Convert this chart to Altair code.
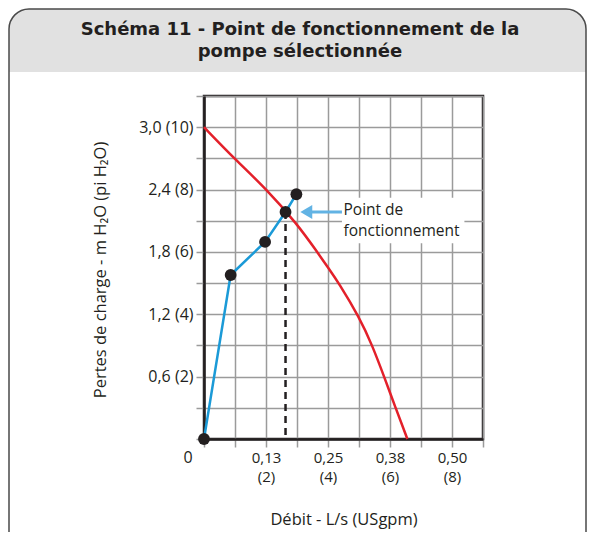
import altair as alt
import pandas as pd

# ---------------- data (flow in USgpm, head in ft H2O) ----------------
sys_flow = [0, 0.86, 1.97, 2.63, 2.98]
sys_head = [0, 5.26, 6.32, 7.28, 7.85]

pump_flow = [0, 1, 2, 3, 3.65, 4, 4.35, 5, 5.43, 5.81, 6.18, 6.56]
pump_head = [10, 8.97, 8.03, 6.9, 6.0, 5.5, 5.0, 3.92, 3.0, 2.0, 1.0, 0]

op_flow = [2.63]
op_head = [7.28]

x_tick_pos = [2, 4, 6, 8]
x_tick_ls = ["0,13", "0,25", "0,38", "0,50"]
y_tick_pos = [2, 4, 6, 8, 10]
y_tick_m = ["0,6", "1,2", "1,8", "2,4", "3,0"]

title_lines = ["Schéma 11 - Point de fonctionnement de la", "pompe sélectionnée"]
annot_lines = ["Point de", "fonctionnement"]
x_title = "Débit - L/s (USgpm)"
y_title = "Pertes de charge - m H\u2082O (pi H\u2082O)"

# ---------------- styling ----------------
FONT = "Open Sans"
TFONT = "DejaVu Sans"
TXT = "#231f20"
GRID = "#9b9b9b"
BLUE = "#1b9ad7"
RED = "#e3202a"
ARROW = "#62b3e4"
W, H = 279, 343
FS = 16

x_expr = " : ".join(
    f"datum.value == {p} ? ['{l}', '({p})']" for p, l in zip(x_tick_pos, x_tick_ls)
) + " : ''"
y_expr = " : ".join(
    f"datum.value == {p} ? '{m} ({p})'" for p, m in zip(y_tick_pos, y_tick_m)
) + " : ''"

x_enc = alt.X(
    "flow:Q",
    scale=alt.Scale(domain=[0, 9], nice=False, zero=False),
    axis=alt.Axis(
        values=list(range(10)), grid=True, gridColor=GRID, gridWidth=1.5,
        domainColor=TXT, domainWidth=2.5, tickColor=GRID, tickWidth=1.5, tickSize=8,
        labelExpr=x_expr, labelFont=FONT, labelFontSize=15, labelColor=TXT,
        labelPadding=3, labelLineHeight=19, labelOverlap=False, labelFlush=False,
        title=x_title, titleFont=FONT, titleFontSize=16.5, titleFontWeight="normal",
        titleColor=TXT, titleX=W / 2, titleY=80, titleBaseline="middle", titleAlign="center",
    ),
)
y_enc = alt.Y(
    "head:Q",
    scale=alt.Scale(domain=[0, 11], nice=False, zero=False),
    axis=alt.Axis(
        values=list(range(12)), grid=True, gridColor=GRID, gridWidth=1.5,
        domainColor=TXT, domainWidth=2.5, tickColor=GRID, tickWidth=1.5, tickSize=8,
        labelExpr=y_expr, labelFont=FONT, labelFontSize=FS, labelColor=TXT,
        labelPadding=3, labelOverlap=False, labelFlush=False,
        title=y_title, titleFont=FONT, titleFontSize=16.5, titleFontWeight="normal",
        titleColor=TXT, titleX=-104, titleY=H / 2 + 2, titleAngle=-90,
        titleBaseline="middle", titleAlign="center",
    ),
)

one = pd.DataFrame({"k": [0]})
sys_df = pd.DataFrame({"flow": sys_flow, "head": sys_head})
pump_df = pd.DataFrame({"flow": pump_flow, "head": pump_head})
op_df = pd.DataFrame({"flow": op_flow, "head": op_head, "head0": [0]})

# annotation geometry (data units)
ann_df = pd.DataFrame({"flow": [4.45], "flow2": [8.4], "head": [6.28], "head2": [7.74]})
arrow_df = pd.DataFrame({"flow": [3.4], "flow2": [4.45], "head": op_head})
arrow_head_df = pd.DataFrame({"flow": [3.3], "head": op_head})
ann_txt_df = pd.DataFrame({"flow": [4.5, 4.5], "head": [7.34, 6.67], "t": annot_lines})
zero_df = pd.DataFrame({"flow": [0], "head": [0], "t": ["0"]})

header = alt.Chart(one).mark_rect(
    fill="#e1e1e1", cornerRadiusTopLeft=20, cornerRadiusTopRight=20
).encode(x=alt.value(-195), x2=alt.value(382), y=alt.value(-87), y2=alt.value(-24))

frame = alt.Chart(one).mark_rect(
    fillOpacity=0, stroke="#4a4a4a", strokeWidth=1.5, cornerRadius=20
).encode(x=alt.value(-195), x2=alt.value(382), y=alt.value(-87), y2=alt.value(520))

t1 = alt.Chart(one).mark_text(
    font=TFONT, fontSize=18, fontWeight="bold", color=TXT, align="center", baseline="alphabetic"
).encode(x=alt.value(96), y=alt.value(-61.5), text=alt.value(title_lines[0]))
t2 = alt.Chart(one).mark_text(
    font=TFONT, fontSize=18, fontWeight="bold", color=TXT, align="center", baseline="alphabetic"
).encode(x=alt.value(96), y=alt.value(-39), text=alt.value(title_lines[1]))

ann_box = alt.Chart(ann_df).mark_rect(fill="white").encode(
    x=x_enc, x2="flow2:Q", y=y_enc, y2="head2:Q"
)

dashed = alt.Chart(op_df).mark_rule(color=TXT, strokeWidth=2.5, strokeDash=[7, 5]).encode(
    x=x_enc, y=y_enc, y2="head0:Q"
)

pump = alt.Chart(pump_df).mark_line(color=RED, strokeWidth=2.5, interpolate="basis").encode(
    x=x_enc, y=y_enc
)

system = alt.Chart(sys_df).mark_line(color=BLUE, strokeWidth=2.5).encode(x=x_enc, y=y_enc)
dots = alt.Chart(sys_df).mark_point(filled=True, size=140, color=TXT, opacity=1).encode(
    x=x_enc, y=y_enc
)

arrow = alt.Chart(arrow_df).mark_rule(color=ARROW, strokeWidth=3).encode(
    x=x_enc, x2="flow2:Q", y=y_enc
)
arrow_head = alt.Chart(arrow_head_df).mark_point(
    shape="triangle-left", filled=True, size=190, color=ARROW, opacity=1
).encode(x=x_enc, y=y_enc)

ann_txt = alt.Chart(ann_txt_df).mark_text(
    font=FONT, fontSize=15.5, color=TXT, align="left", baseline="middle"
).encode(x=x_enc, y=y_enc, text="t:N")

zero_txt = alt.Chart(zero_df).mark_text(
    font=FONT, fontSize=FS, color=TXT, align="center", baseline="middle", dx=-16, dy=19
).encode(x=x_enc, y=y_enc, text="t:N")

chart = alt.layer(
    header, frame, t1, t2, ann_box, dashed, pump, system, dots, arrow, arrow_head, ann_txt, zero_txt
).properties(
    width=W, height=H,
    autosize=alt.AutoSizeParams(type="none"),
    padding={"left": 196, "top": 88, "right": 104, "bottom": 93},
    background="white",
).configure_view(stroke=TXT, strokeWidth=2.5)

chart.save("out.html", embed_options={"renderer": "svg", "actions": False})
